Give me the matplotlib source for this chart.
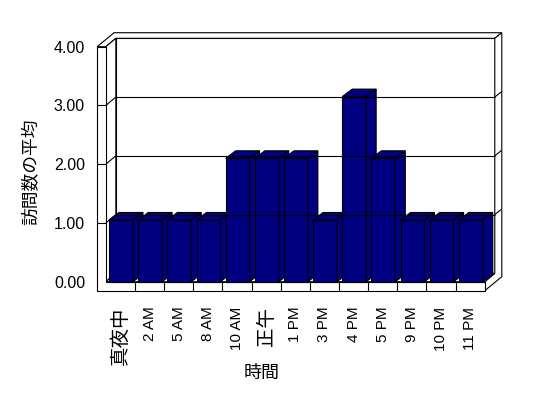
import matplotlib
matplotlib.use("Agg")
import matplotlib.pyplot as plt
from matplotlib.patches import Polygon
import numpy as np

plt.rcParams["font.family"] = ["Liberation Sans", "Noto Sans CJK JP"]

# data
hours = ["真夜中", "2 AM", "5 AM", "8 AM", "10 AM", "正午", "1 PM",
         "3 PM", "4 PM", "5 PM", "9 PM", "10 PM", "11 PM"]
avg_visits = [1, 1, 1, 1, 2, 2, 2, 1, 3, 2, 1, 1, 1]
y_ticks = [0, 1, 2, 3, 4]
y_ticklabels = ["0.00", "1.00", "2.00", "3.00", "4.00"]

NAVY = "#000080"
N = len(hours)
YMAX = 4

# pseudo 3-D geometry, in data units (1 category wide, 1 value unit tall)
WALL_DX, WALL_DY = 0.343, 0.143     # front of floor -> back wall
THICK_DX, THICK_DY = 0.24, 0.095    # back wall thickness
LEFT_W = 0.30                       # left wall thickness
FLOOR_T = 0.153                     # floor slab thickness
BAR_DX, BAR_DY = 0.343, 0.128       # bar depth
BAR_X0, BAR_X1 = 0.11, 0.93         # bar front face inside a category
BAR_GAIN = 1.05                     # excel draws the 3-D bars a bit taller than the wall scale

OFF = [(0, 0), (WALL_DX, WALL_DY), (WALL_DX + THICK_DX, WALL_DY + THICK_DY)]


def P(x, v, k):
    """point at category x, value v, depth layer k (0 front, 1 back wall, 2 behind it)"""
    return (x + OFF[k][0], v + OFF[k][1])


def face(ax, pts, fc):
    ax.add_patch(Polygon(pts, closed=True, facecolor=fc, edgecolor="black",
                         linewidth=0.8, clip_on=False, joinstyle="miter"))


def line(ax, a, b):
    ax.plot([a[0], b[0]], [a[1], b[1]], color="black", lw=0.8,
            clip_on=False, solid_capstyle="butt")


fig = plt.figure(figsize=(5.48, 3.98), dpi=100)
ax = fig.add_axes([0.19316, 0.29221, 0.69151, 0.59045])
ax.set_xlim(0, N)
ax.set_ylim(0, YMAX)
for s in ax.spines.values():
    s.set_visible(False)

f = -FLOOR_T
# walls and floor
face(ax, [P(0, 0, 1), P(N, 0, 1), P(N, YMAX, 1), P(0, YMAX, 1)], "white")
face(ax, [P(-LEFT_W, YMAX, 0), P(0, YMAX, 0), P(0, YMAX, 1), P(N, YMAX, 1),
          P(N, YMAX, 2), P(-LEFT_W, YMAX, 2)], "white")
face(ax, [P(N, 0, 0), P(N, f, 0), P(N, f, 2), P(N, YMAX, 2),
          P(N, YMAX, 1), P(N, 0, 1)], "white")
face(ax, [P(0, 0, 0), P(0, YMAX, 0), P(0, YMAX, 1), P(0, 0, 1)], "white")
face(ax, [P(0, 0, 0), P(N, 0, 0), P(N, 0, 1), P(0, 0, 1)], "white")
face(ax, [P(-LEFT_W, YMAX, 0), P(0, YMAX, 0), P(0, 0, 0), P(N, 0, 0),
          P(N, f, 0), P(-LEFT_W, f, 0)], "white")

# gridlines wrapped around the walls
for v in y_ticks[1:-1]:
    line(ax, P(-LEFT_W, v, 0), P(0, v, 0))
    line(ax, P(0, v, 0), P(0, v, 1))
    line(ax, P(0, v, 1), P(N, v, 1))
    line(ax, P(N, v, 1), P(N, v, 2))

# category separators on the floor edge
for i in range(1, N):
    line(ax, (i, 0), (i, f))

# bars, left to right so each one covers the side of the previous
for i, val in enumerate(avg_visits):
    v = val * BAR_GAIN
    x0, x1 = i + BAR_X0, i + BAR_X1
    face(ax, [(x0, 0), (x1, 0), (x1, v), (x0, v)], NAVY)
    face(ax, [(x0, v), (x1, v), (x1 + BAR_DX, v + BAR_DY), (x0 + BAR_DX, v + BAR_DY)], NAVY)
    face(ax, [(x1, 0), (x1 + BAR_DX, BAR_DY), (x1 + BAR_DX, v + BAR_DY), (x1, v)], NAVY)

# ticks
ax.set_xticks(np.arange(N) + 0.5, hours, rotation=90)
ax.set_yticks(y_ticks, y_ticklabels)
ax.tick_params(axis="x", length=0, pad=18)
ax.tick_params(axis="y", length=0, pad=15, labelsize=11.5)
for lab in ax.get_xticklabels():
    if lab.get_text().isascii():
        lab.set_fontsize(11)
    else:
        lab.set_fontfamily("Noto Sans CJK JP")
        lab.set_fontsize(14)

fig.text(30.8 / 548, 1 - 171.5 / 398, "訪問数の平均", rotation=90, ha="center",
         va="center", fontsize=12.8, family="Noto Sans CJK JP")
fig.text(261.5 / 548, 1 - 372.5 / 398, "時間", ha="center", va="center",
         fontsize=13, family="Noto Sans CJK JP")

fig.savefig("out.png", dpi=100, facecolor="white")
